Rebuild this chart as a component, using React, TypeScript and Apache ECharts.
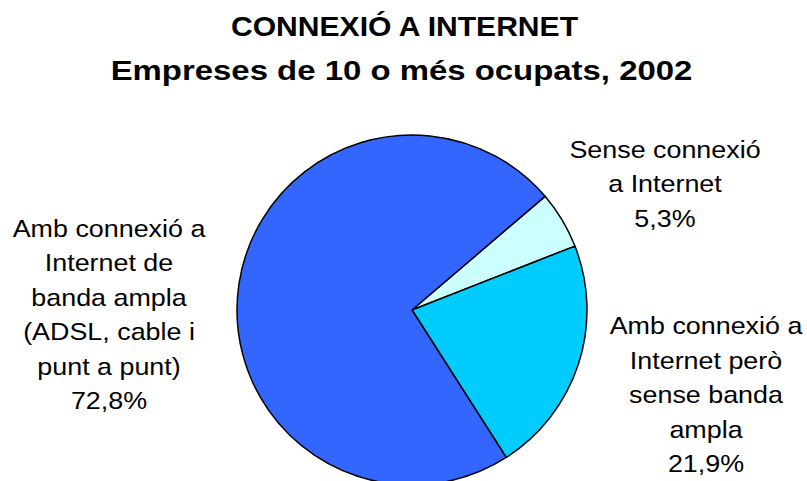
import React, { useEffect, useRef } from "react";
import * as echarts from "echarts";

const titleLines = ["CONNEXIÓ A INTERNET", "Empreses de 10 o més ocupats, 2002"];
const categories = [
  "Sense connexió\na Internet",
  "Amb connexió a\nInternet però\nsense banda\nampla",
  "Amb connexió a\nInternet de\nbanda ampla\n(ADSL, cable i\npunt a punt)",
];
const values = [5.3, 21.9, 72.8];
const colors = ["#CCFFFF", "#00CCFF", "#3366FF"];

const labelPos = [
  { x: 665, y: 184 },
  { x: 706, y: 395 },
  { x: 109, y: 314.5 },
];

const fmt = (v: number) => String(v.toFixed(1)).replace(".", ",") + "%";

export default function App() {
  const ref = useRef<HTMLDivElement>(null);
  useEffect(() => {
    if (!ref.current) return;
    const chart = echarts.init(ref.current, null, { renderer: "svg" });
    const titleSpec = [
      { x: 404.5, y: 26, sx: 1.075 },
      { x: 401.5, y: 70, sx: 1.176 },
    ];
    chart.setOption({
      animation: false,
      backgroundColor: "#ffffff",
      graphic: [
        ...titleLines.map((t, i) => ({
          type: "text",
          x: titleSpec[i].x,
          y: titleSpec[i].y,
          scaleX: titleSpec[i].sx,
          style: {
            text: t,
            font: "bold 28px 'Liberation Sans'",
            fill: "#000",
            align: "center",
            verticalAlign: "middle",
          },
        })),
        ...categories.map((c, i) => ({
          type: "text",
          x: labelPos[i].x,
          y: labelPos[i].y,
          scaleX: 1.12,
          style: {
            text: c + "\n" + fmt(values[i]),
            font: "24px 'Liberation Sans'",
            lineHeight: 34.5,
            fill: "#000",
            align: "center",
            verticalAlign: "middle",
          },
        })),
      ],
      series: [
        {
          type: "pie",
          center: [412, 310],
          radius: 175,
          startAngle: 40.5,
          clockwise: true,
          data: values.map((v, i) => ({
            value: v,
            name: categories[i],
            itemStyle: { color: colors[i] },
          })),
          itemStyle: { borderColor: "#000", borderWidth: 1.5 },
          label: { show: false },
          labelLine: { show: false },
          emphasis: { disabled: true },
        },
      ],
    });
    return () => chart.dispose();
  }, []);
  return (
    <div
      ref={ref}
      style={{ position: "fixed", left: 0, top: 0, width: 807, height: 481 }}
    />
  );
}
